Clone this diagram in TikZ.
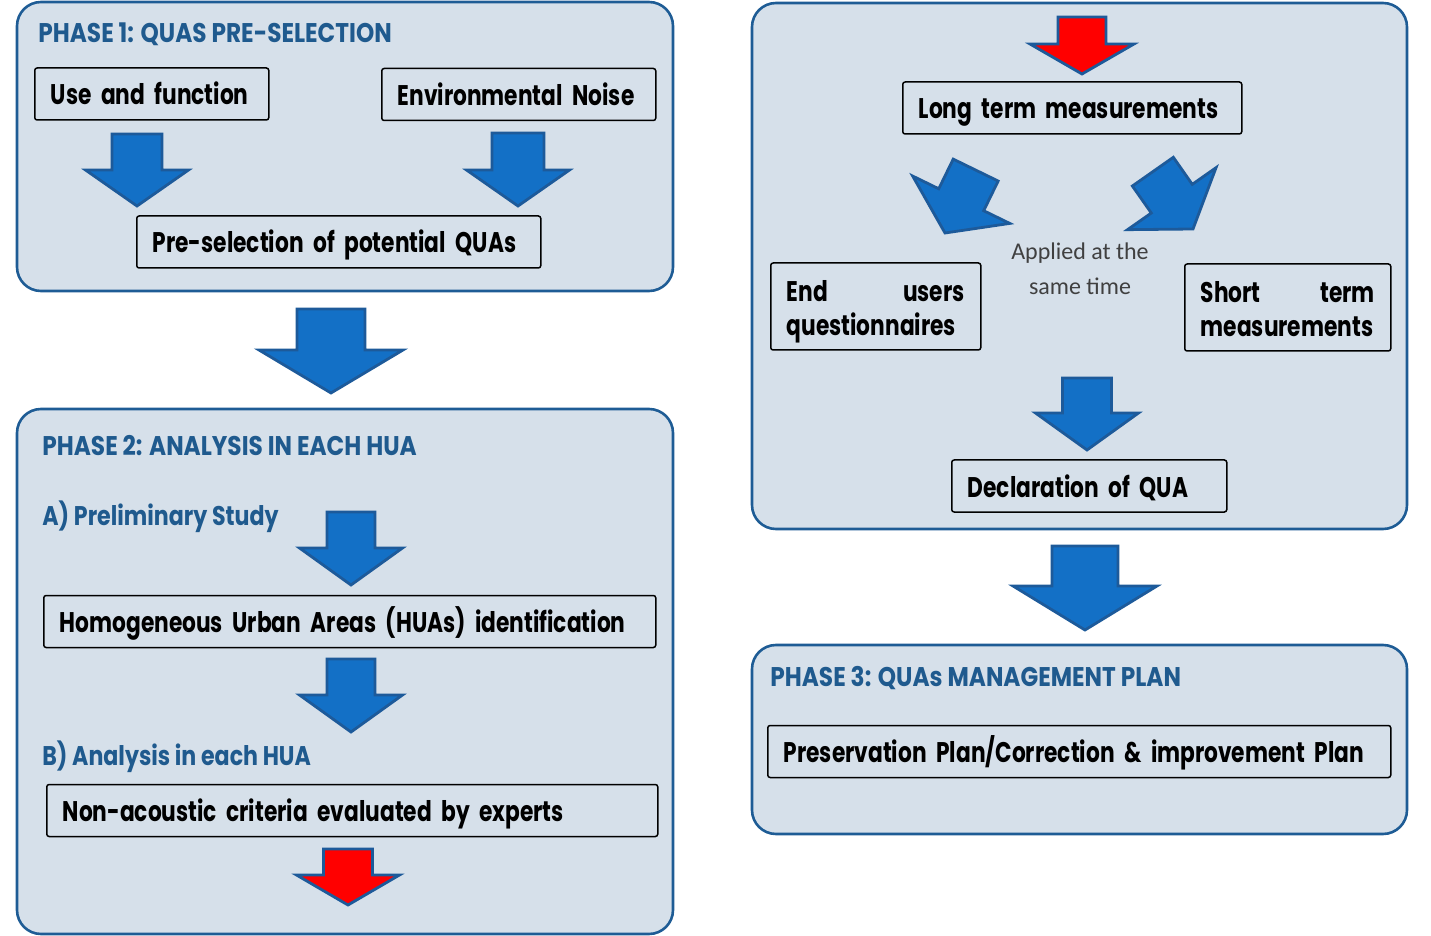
\documentclass[tikz,border=0pt]{standalone}
\usepackage{fontspec}
\newfontfamily\boxfont{Poppins}[FakeStretch=0.765]
\newfontfamily\ttlfont{Poppins}[FakeStretch=0.86]
\newfontfamily\subfont{Poppins}[FakeStretch=0.82]
\newfontfamily\appliedfont{Carlito}
\definecolor{panelfill}{HTML}{D6E0EA}
\definecolor{paneldraw}{HTML}{1E5C95}
\definecolor{titleblue}{HTML}{1F5A8E}
\definecolor{arrowfill}{HTML}{1370C6}
\definecolor{arrowdraw}{HTML}{1D5A9A}
\definecolor{redfill}{HTML}{FF0000}
\tikzset{
  panel/.style={draw=paneldraw, fill=panelfill, line width=1.3pt, rounded corners=12pt},
  bx/.style={draw=black, line width=0.75pt, rounded corners=1.2pt, anchor=west, align=left,
    inner xsep=8pt, inner ysep=0pt, minimum height=26pt, font=\boxfont\bfseries\fontsize{14.2}{17}\selectfont},
  one/.style={text height=13pt, text depth=2pt},
  ttl/.style={anchor=base west, inner sep=0pt, text=titleblue, font=\ttlfont\bfseries\fontsize{13.5}{16}\selectfont},
  sub/.style={ttl, font=\subfont\bfseries\fontsize{13.5}{16}\selectfont},
  arrowstyle/.style={draw=arrowdraw, line width=1.4pt, line join=miter},
}
\newcommand\dnarrow[8]{%
  \begin{scope}[shift={(#1,#2)},rotate=#3]
  \draw[arrowstyle,fill=#8] (0,0) -- (-#4,-#5) -- (-#6,-#5) -- (-#6,-#5-#7) -- (#6,-#5-#7) -- (#6,-#5) -- (#4,-#5) -- cycle;
  \end{scope}}
\begin{document}
\begin{tikzpicture}[x=0.5pt,y=-0.5pt]
\useasboundingbox (0,0) rectangle (1431,936);
% panels
\draw[panel] (17,2) rectangle (673,291);
\draw[panel] (17,409) rectangle (673,934);
\draw[panel] (752,3) rectangle (1407,529);
\draw[panel] (752,645) rectangle (1407,834);
% titles
\node[ttl] (t1) at (38,43) {PHASE 1: QUAS PRE-SELECTION};
\node[ttl] (t2) at (42,456) {PHASE 2: ANALYSIS IN EACH HUA};
\node[sub] (ta) at (42,525) {A) Preliminary Study};
\node[sub] (tb) at (42,765) {B) Analysis in each HUA};
\node[ttl] (t3) at (770,686) {PHASE 3: QUAs MANAGEMENT PLAN};
% boxes
\node[bx, one, text width=101pt] (use) at (34,94) {\mbox{Use and function}};
\node[bx, one, text width=121pt] (env) at (381,94.5) {\mbox{Environmental Noise}};
\node[bx, one, text width=186pt] (pre) at (136,242) {\mbox{Pre-selection of potential QUAs}};
\node[bx, one, text width=290pt] (hom) at (43,621.5) {\mbox{Homogeneous Urban Areas (HUAs) identification}};
\node[bx, one, text width=289.5pt] (non) at (46,810.5) {\mbox{Non-acoustic criteria evaluated by experts}};
\node[bx, one, text width=153.5pt] (long) at (902,108) {\mbox{Long term measurements}};
\node[bx, text width=89pt, minimum height=43.5pt] (end) at (770,306.5) {\rule{0pt}{16pt}\makebox[89pt][s]{End\hfill users}\\\mbox{questionnaires}};
\node[bx, text width=87pt, minimum height=43.5pt] (short) at (1184,307.5) {\rule{0pt}{16pt}\makebox[87pt][s]{Short\hfill term}\\\mbox{measurements\vphantom{q}}};
\node[bx, one, text width=121.5pt] (decl) at (951,486) {\mbox{Declaration of QUA}};
\node[bx, one, text width=295.5pt] (pres) at (767,751.5) {\mbox{Preservation Plan/Correction \& improvement Plan}};
% applied text
\node[align=center, text=black!75, font=\appliedfont\fontsize{12}{17.5}\selectfont] (applied) at (1080,269) {Applied at the\\same time};
% arrows
\dnarrow{137}{206}{0}{51.5}{36}{25}{36}{arrowfill}
\dnarrow{518}{206}{0}{51.5}{36}{26}{37}{arrowfill}
\dnarrow{331}{393}{0}{72}{43}{34}{41}{arrowfill}
\dnarrow{351}{585}{0}{51.5}{37}{24}{36}{arrowfill}
\dnarrow{351}{732}{0}{51.5}{37}{24}{36}{arrowfill}
\dnarrow{348}{905}{0}{51.5}{30}{24.5}{26}{redfill}
\dnarrow{1082}{74}{0}{52}{30}{24}{27}{redfill}
\dnarrow{1087}{450}{0}{51.5}{37}{24.5}{35}{arrowfill}
\dnarrow{1085}{630}{0}{72}{44}{33}{40}{arrowfill}
\dnarrow{945}{233}{-26}{54}{37}{25}{33}{arrowfill}
\dnarrow{1193}{229}{35}{54}{37}{25}{33}{arrowfill}
\end{tikzpicture}
\end{document}
